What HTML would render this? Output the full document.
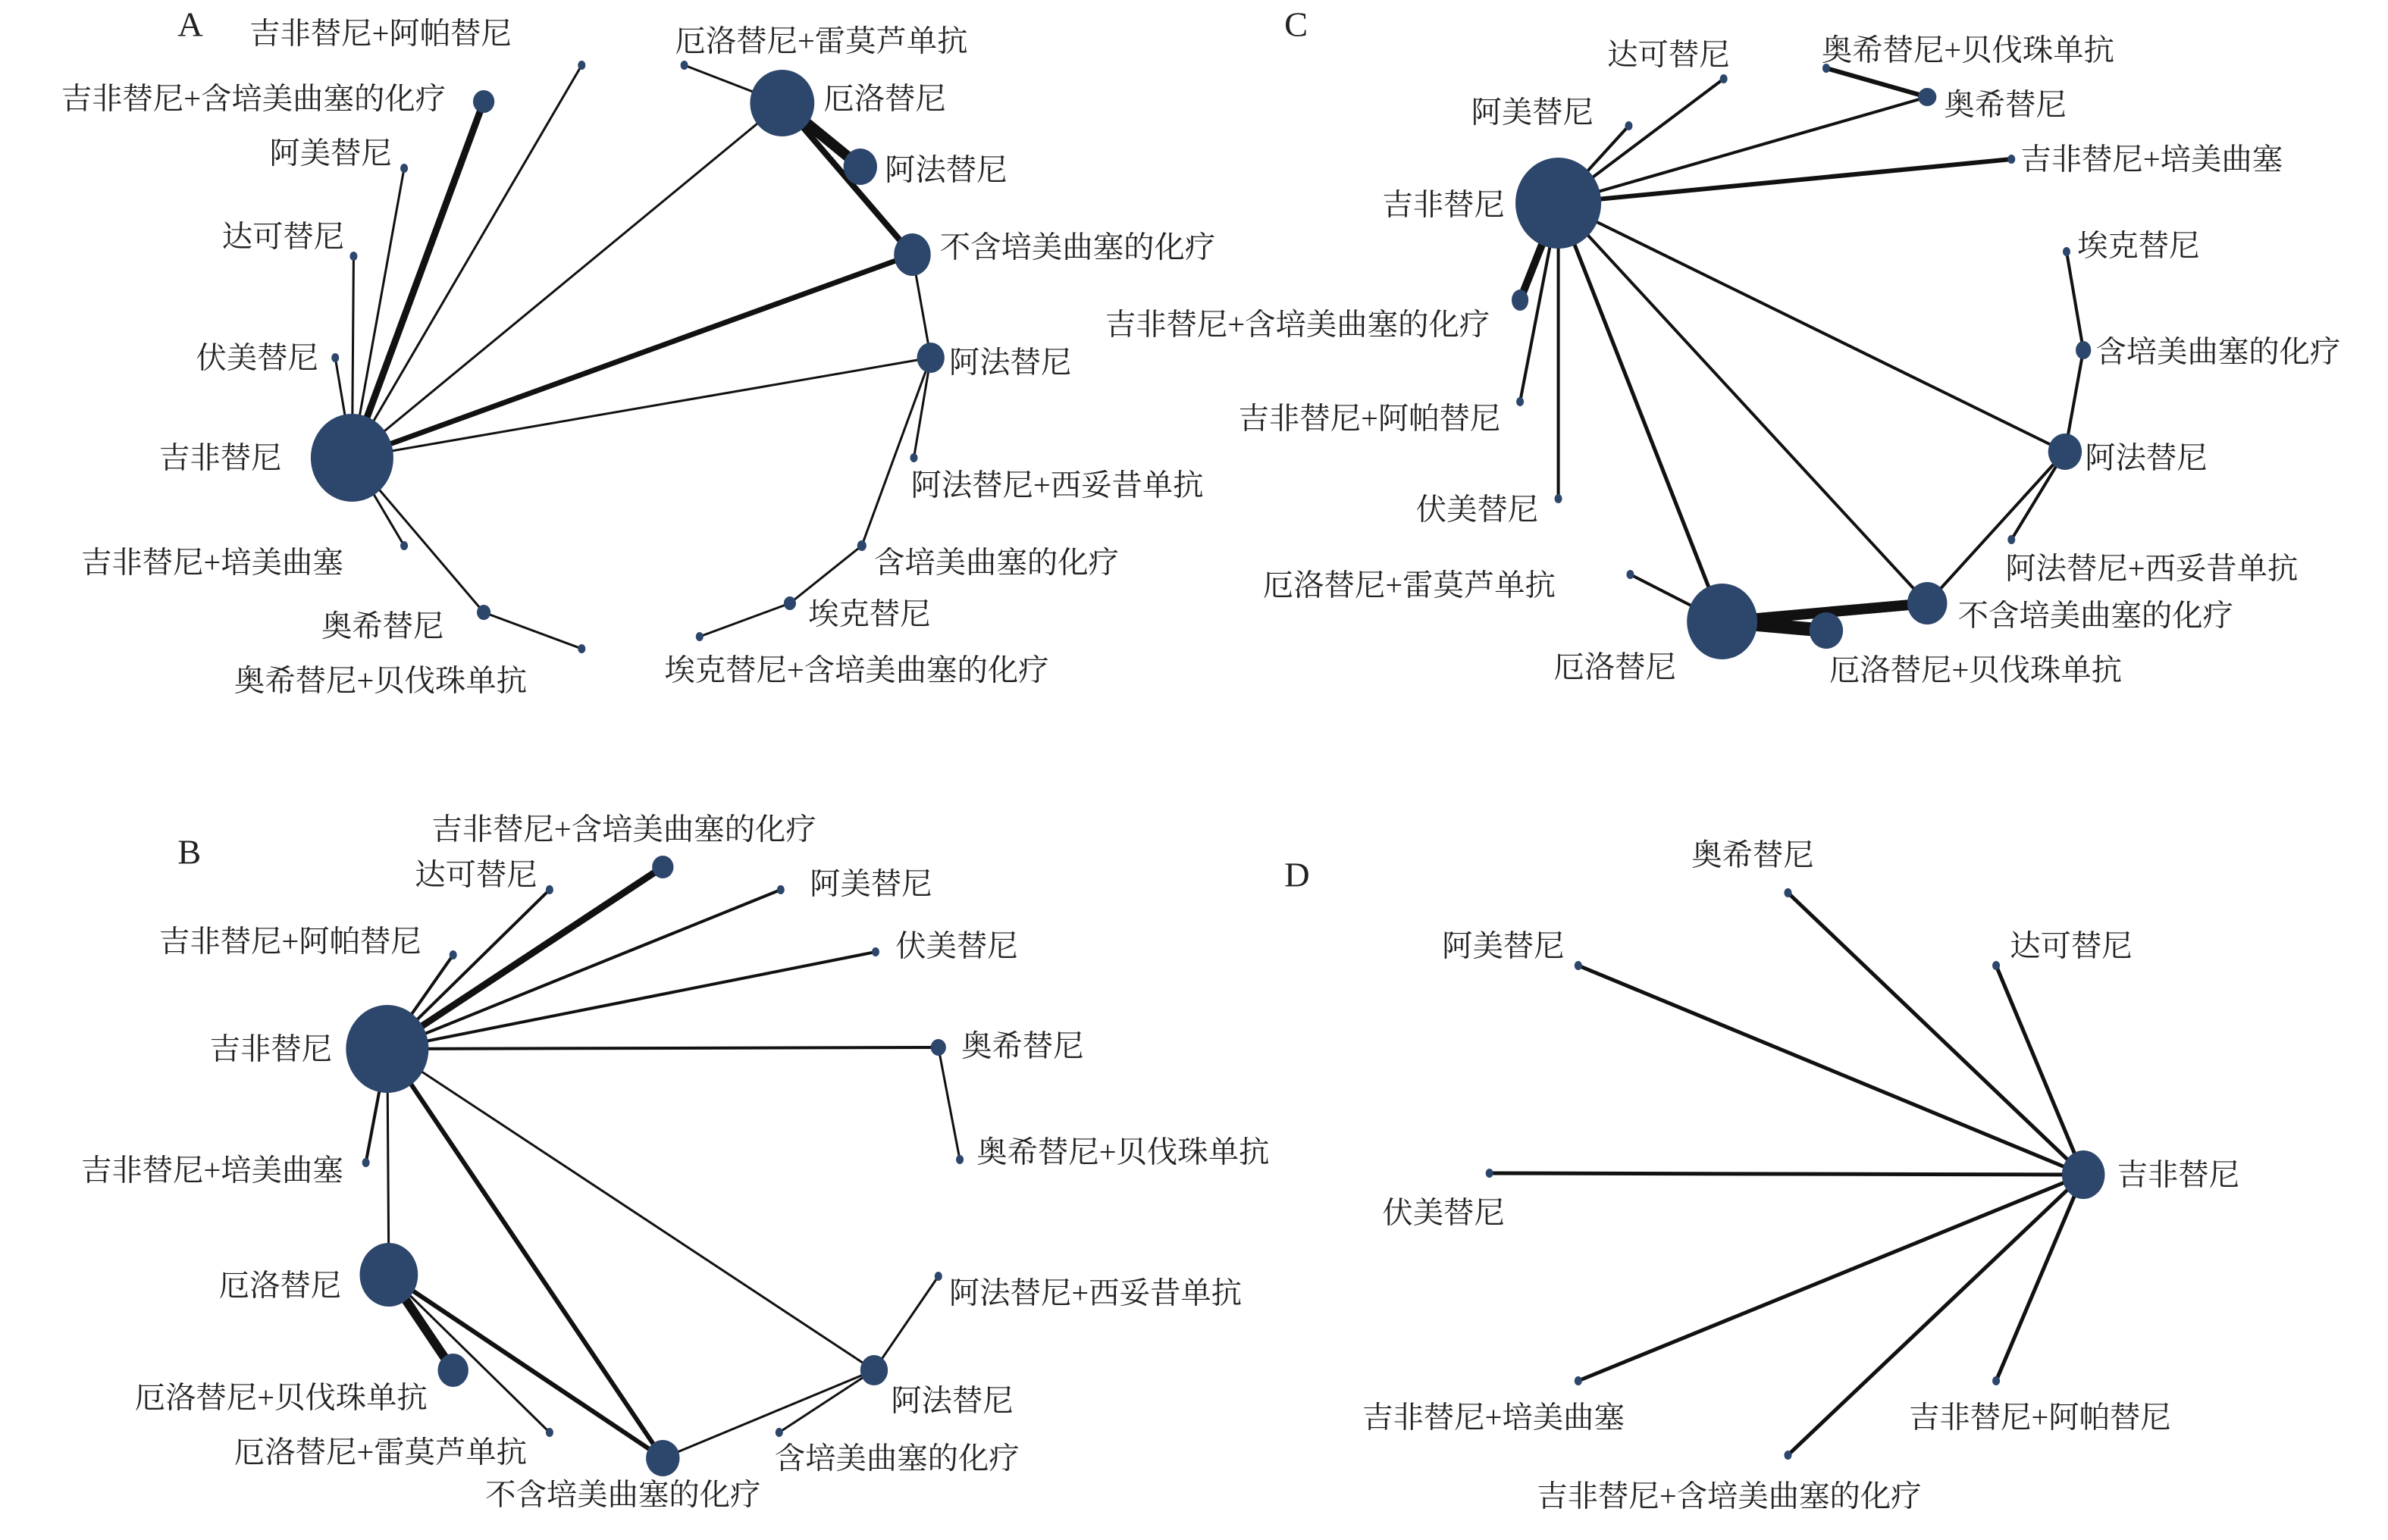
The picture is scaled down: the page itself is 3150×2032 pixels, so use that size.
<!DOCTYPE html>
<html><head><meta charset="utf-8"><style>
html,body{margin:0;padding:0;background:#fff;width:3150px;height:2032px;overflow:hidden}
svg{display:block}
text{font-family:"Liberation Serif","Noto Serif CJK SC","Noto Sans CJK SC",serif;font-size:20px;fill:#222;dominant-baseline:central}
.L{font-size:23px}
line{stroke:#111;stroke-linecap:round}
ellipse{fill:#2d466b}
</style></head><body>
<svg width="3150" height="2032" viewBox="0 0 1560 1016" preserveAspectRatio="none" xmlns="http://www.w3.org/2000/svg">
<!-- Panel A -->
<text class="L" x="116" y="16">A</text>
<g stroke-width="1.5">
<line x1="230" y1="302" x2="380" y2="43"/>
<line x1="230" y1="302" x2="316" y2="67" stroke-width="4.5"/>
<line x1="230" y1="302" x2="264" y2="111"/>
<line x1="230" y1="302" x2="231" y2="169"/>
<line x1="230" y1="302" x2="219" y2="236"/>
<line x1="230" y1="302" x2="264" y2="360"/>
<line x1="230" y1="302" x2="316" y2="404"/>
<line x1="316" y1="404" x2="380" y2="428"/>
<line x1="230" y1="302" x2="511" y2="68"/>
<line x1="230" y1="302" x2="596" y2="168" stroke-width="3.5"/>
<line x1="230" y1="302" x2="608" y2="236"/>
<line x1="511" y1="68" x2="447" y2="43"/>
<line x1="511" y1="68" x2="562" y2="110" stroke-width="7"/>
<line x1="511" y1="68" x2="596" y2="168" stroke-width="4"/>
<line x1="596" y1="168" x2="608" y2="236"/>
<line x1="608" y1="236" x2="597" y2="302"/>
<line x1="608" y1="236" x2="563" y2="360"/>
<line x1="563" y1="360" x2="516" y2="398"/>
<line x1="516" y1="398" x2="457" y2="420"/>
</g>
<ellipse cx="230" cy="302" rx="27" ry="29"/>
<ellipse cx="380" cy="43" rx="2.5" ry="3"/>
<ellipse cx="316" cy="67" rx="7" ry="7.5"/>
<ellipse cx="264" cy="111" rx="2.5" ry="3"/>
<ellipse cx="231" cy="169" rx="2.5" ry="3"/>
<ellipse cx="219" cy="236" rx="2.5" ry="3"/>
<ellipse cx="264" cy="360" rx="2.5" ry="3"/>
<ellipse cx="316" cy="404" rx="4.5" ry="5"/>
<ellipse cx="380" cy="428" rx="2.5" ry="3"/>
<ellipse cx="511" cy="68" rx="21" ry="22"/>
<ellipse cx="447" cy="43" rx="2.5" ry="3"/>
<ellipse cx="562" cy="110" rx="11" ry="12"/>
<ellipse cx="596" cy="168" rx="12" ry="14"/>
<ellipse cx="608" cy="236" rx="9" ry="10"/>
<ellipse cx="597" cy="302" rx="2.5" ry="3"/>
<ellipse cx="563" cy="360" rx="3" ry="3.5"/>
<ellipse cx="516" cy="398" rx="4" ry="4.5"/>
<ellipse cx="457" cy="420" rx="2.5" ry="3"/>
<text x="104" y="302">吉非替尼</text>
<text x="163" y="22">吉非替尼+阿帕替尼</text>
<text x="40" y="65">吉非替尼+含培美曲塞的化疗</text>
<text x="176" y="101">阿美替尼</text>
<text x="145" y="156">达可替尼</text>
<text x="128" y="236">伏美替尼</text>
<text x="53" y="371">吉非替尼+培美曲塞</text>
<text x="210" y="413">奥希替尼</text>
<text x="153" y="449">奥希替尼+贝伐珠单抗</text>
<text x="538" y="65">厄洛替尼</text>
<text x="441" y="27">厄洛替尼+雷莫芦单抗</text>
<text x="578" y="112">阿法替尼</text>
<text x="614" y="163">不含培美曲塞的化疗</text>
<text x="620" y="239">阿法替尼</text>
<text x="595" y="320">阿法替尼+西妥昔单抗</text>
<text x="571" y="371">含培美曲塞的化疗</text>
<text x="528" y="405">埃克替尼</text>
<text x="434" y="442">埃克替尼+含培美曲塞的化疗</text>

<!-- Panel C -->
<text class="L" x="839" y="16">C</text>
<g stroke-width="2">
<line x1="1018" y1="134" x2="1126" y2="52"/>
<line x1="1018" y1="134" x2="1064" y2="83"/>
<line x1="1018" y1="134" x2="1259" y2="64"/>
<line x1="1259" y1="64" x2="1193" y2="45" stroke-width="3"/>
<line x1="1018" y1="134" x2="1314" y2="105" stroke-width="3"/>
<line x1="1018" y1="134" x2="1349" y2="298"/>
<line x1="1018" y1="134" x2="1259" y2="398"/>
<line x1="1018" y1="134" x2="1125" y2="410" stroke-width="2.5"/>
<line x1="1018" y1="134" x2="1018" y2="329"/>
<line x1="1018" y1="134" x2="993" y2="265"/>
<line x1="1018" y1="134" x2="993" y2="198" stroke-width="5"/>
<line x1="1350" y1="166" x2="1361" y2="231"/>
<line x1="1361" y1="231" x2="1349" y2="298"/>
<line x1="1349" y1="298" x2="1314" y2="356"/>
<line x1="1349" y1="298" x2="1259" y2="398"/>
<line x1="1125" y1="410" x2="1259" y2="398" stroke-width="7"/>
<line x1="1125" y1="410" x2="1193" y2="416" stroke-width="9"/>
<line x1="1125" y1="410" x2="1065" y2="379"/>
</g>
<ellipse cx="1018" cy="134" rx="28" ry="30"/>
<ellipse cx="1126" cy="52" rx="2.5" ry="3"/>
<ellipse cx="1064" cy="83" rx="2.5" ry="3"/>
<ellipse cx="1259" cy="64" rx="6" ry="6"/>
<ellipse cx="1193" cy="45" rx="2.5" ry="3"/>
<ellipse cx="1314" cy="105" rx="2.5" ry="3"/>
<ellipse cx="1350" cy="166" rx="2.5" ry="3"/>
<ellipse cx="1361" cy="231" rx="5" ry="6"/>
<ellipse cx="1349" cy="298" rx="11" ry="12"/>
<ellipse cx="1314" cy="356" rx="2.5" ry="3"/>
<ellipse cx="1259" cy="398" rx="13" ry="14"/>
<ellipse cx="1193" cy="416" rx="11" ry="12"/>
<ellipse cx="1125" cy="410" rx="23" ry="25"/>
<ellipse cx="1065" cy="379" rx="2.5" ry="3"/>
<ellipse cx="1018" cy="329" rx="2.5" ry="3"/>
<ellipse cx="993" cy="265" rx="2.5" ry="3"/>
<ellipse cx="993" cy="198" rx="5.5" ry="7"/>
<text x="903" y="135">吉非替尼</text>
<text x="1050" y="36">达可替尼</text>
<text x="961" y="74">阿美替尼</text>
<text x="1270" y="69">奥希替尼</text>
<text x="1190" y="33">奥希替尼+贝伐珠单抗</text>
<text x="1320" y="105">吉非替尼+培美曲塞</text>
<text x="1357" y="162">埃克替尼</text>
<text x="1369" y="232">含培美曲塞的化疗</text>
<text x="1362" y="302">阿法替尼</text>
<text x="1310" y="375">阿法替尼+西妥昔单抗</text>
<text x="1279" y="406">不含培美曲塞的化疗</text>
<text x="1195" y="442">厄洛替尼+贝伐珠单抗</text>
<text x="1015" y="440">厄洛替尼</text>
<text x="825" y="386">厄洛替尼+雷莫芦单抗</text>
<text x="925" y="336">伏美替尼</text>
<text x="809" y="276">吉非替尼+阿帕替尼</text>
<text x="722" y="214">吉非替尼+含培美曲塞的化疗</text>

<!-- Panel B -->
<text class="L" x="116" y="562">B</text>
<g stroke-width="2">
<line x1="253" y1="692" x2="433" y2="572" stroke-width="4.5"/>
<line x1="253" y1="692" x2="359" y2="587"/>
<line x1="253" y1="692" x2="510" y2="587"/>
<line x1="253" y1="692" x2="296" y2="630"/>
<line x1="253" y1="692" x2="572" y2="628"/>
<line x1="253" y1="692" x2="613" y2="691"/>
<line x1="613" y1="691" x2="627" y2="765" stroke-width="1.5"/>
<line x1="253" y1="692" x2="239" y2="767"/>
<line x1="253" y1="692" x2="254" y2="841" stroke-width="1.5"/>
<line x1="253" y1="692" x2="433" y2="962" stroke-width="3"/>
<line x1="253" y1="692" x2="571" y2="904" stroke-width="1.5"/>
<line x1="254" y1="841" x2="296" y2="904" stroke-width="6"/>
<line x1="254" y1="841" x2="359" y2="945" stroke-width="1.5"/>
<line x1="254" y1="841" x2="433" y2="962" stroke-width="3"/>
<line x1="433" y1="962" x2="571" y2="904" stroke-width="1.5"/>
<line x1="571" y1="904" x2="613" y2="842" stroke-width="1.5"/>
<line x1="571" y1="904" x2="509" y2="945" stroke-width="1.5"/>
</g>
<ellipse cx="253" cy="692" rx="27" ry="29"/>
<ellipse cx="433" cy="572" rx="7" ry="7.5"/>
<ellipse cx="359" cy="587" rx="2.5" ry="3"/>
<ellipse cx="510" cy="587" rx="2.5" ry="3"/>
<ellipse cx="296" cy="630" rx="2.5" ry="3"/>
<ellipse cx="572" cy="628" rx="2.5" ry="3"/>
<ellipse cx="613" cy="691" rx="5" ry="5.5"/>
<ellipse cx="627" cy="765" rx="2.5" ry="3"/>
<ellipse cx="239" cy="767" rx="2.5" ry="3"/>
<ellipse cx="254" cy="841" rx="19" ry="21"/>
<ellipse cx="296" cy="904" rx="10" ry="11"/>
<ellipse cx="359" cy="945" rx="2.5" ry="3"/>
<ellipse cx="433" cy="962" rx="11" ry="12"/>
<ellipse cx="571" cy="904" rx="9" ry="10"/>
<ellipse cx="613" cy="842" rx="2.5" ry="3"/>
<ellipse cx="509" cy="945" rx="2.5" ry="3"/>
<text x="137" y="692">吉非替尼</text>
<text x="282" y="547">吉非替尼+含培美曲塞的化疗</text>
<text x="271" y="577">达可替尼</text>
<text x="529" y="583">阿美替尼</text>
<text x="104" y="621">吉非替尼+阿帕替尼</text>
<text x="585" y="624">伏美替尼</text>
<text x="628" y="690">奥希替尼</text>
<text x="638" y="760">奥希替尼+贝伐珠单抗</text>
<text x="53" y="772">吉非替尼+培美曲塞</text>
<text x="143" y="848">厄洛替尼</text>
<text x="88" y="922">厄洛替尼+贝伐珠单抗</text>
<text x="153" y="958">厄洛替尼+雷莫芦单抗</text>
<text x="317" y="986">不含培美曲塞的化疗</text>
<text x="582" y="924">阿法替尼</text>
<text x="620" y="853">阿法替尼+西妥昔单抗</text>
<text x="506" y="962">含培美曲塞的化疗</text>

<!-- Panel D -->
<text class="L" x="839" y="577">D</text>
<g stroke-width="2.5">
<line x1="1361" y1="775" x2="1168" y2="589"/>
<line x1="1361" y1="775" x2="1031" y2="637"/>
<line x1="1361" y1="775" x2="1304" y2="637"/>
<line x1="1361" y1="775" x2="973" y2="774"/>
<line x1="1361" y1="775" x2="1031" y2="911"/>
<line x1="1361" y1="775" x2="1304" y2="911"/>
<line x1="1361" y1="775" x2="1168" y2="960"/>
</g>
<ellipse cx="1361" cy="775" rx="14" ry="16"/>
<ellipse cx="1168" cy="589" rx="2.5" ry="3"/>
<ellipse cx="1031" cy="637" rx="2.5" ry="3"/>
<ellipse cx="1304" cy="637" rx="2.5" ry="3"/>
<ellipse cx="973" cy="774" rx="2.5" ry="3"/>
<ellipse cx="1031" cy="911" rx="2.5" ry="3"/>
<ellipse cx="1304" cy="911" rx="2.5" ry="3"/>
<ellipse cx="1168" cy="960" rx="2.5" ry="3"/>
<text x="1383" y="775">吉非替尼</text>
<text x="1105" y="564">奥希替尼</text>
<text x="942" y="624">阿美替尼</text>
<text x="1313" y="624">达可替尼</text>
<text x="903" y="800">伏美替尼</text>
<text x="890" y="935">吉非替尼+培美曲塞</text>
<text x="1247" y="935">吉非替尼+阿帕替尼</text>
<text x="1004" y="987">吉非替尼+含培美曲塞的化疗</text>
</svg>
</body></html>
